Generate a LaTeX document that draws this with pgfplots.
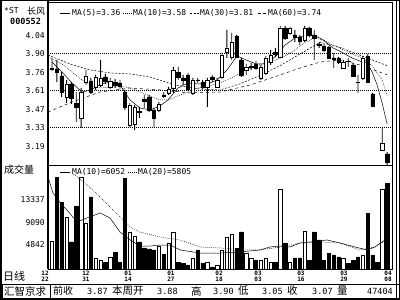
\documentclass[border=0pt]{standalone}
\usepackage{pgfplots}
\pgfplotsset{compat=1.18}
\usepackage{pgfplotstable}
\usepackage{fontspec}
\setmainfont{DejaVu Sans Mono}
\newfontfamily\cjk{Noto Sans CJK SC}
\newcommand{\fs}[1]{\fontsize{#1}{#1}\selectfont}

% up candles (close >= open): index open close high low volume
\pgfplotstableread{
i o c h l v
0 3.785 3.790 3.870 3.770 5590
3 3.569 3.669 3.700 3.523 10120
6 3.407 3.607 3.638 3.330 17670
7 3.684 3.731 3.777 3.661 8990
9 3.646 3.723 3.738 3.623 2380
10 3.661 3.715 3.854 3.646 2000
12 3.646 3.692 3.715 3.630 2570
16 3.353 3.507 3.523 3.338 7290
17 3.361 3.492 3.507 3.315 6530
22 3.469 3.515 3.530 3.453 4640
24 3.600 3.630 3.646 3.584 5210
25 3.638 3.777 3.800 3.600 7290
29 3.600 3.700 3.715 3.584 2380
32 3.646 3.700 3.715 3.492 1620
34 3.646 3.700 3.715 3.638 1060
35 3.723 3.892 3.908 3.708 3900
36 3.915 3.946 4.085 3.869 6340
37 3.877 3.992 4.062 3.854 6900
40 3.777 3.800 3.823 3.738 3320
41 3.800 3.808 3.831 3.777 2380
43 3.715 3.800 3.815 3.700 2000
44 3.754 3.869 3.885 3.738 2380
45 3.838 3.892 3.931 3.815 1620
47 3.877 4.100 4.116 3.869 15400
49 4.062 4.100 4.108 4.046 1620
52 4.008 4.100 4.116 3.992 7480
60 3.792 3.838 3.854 3.785 2380
64 3.715 3.869 3.885 3.700 2950
68 3.161 3.215 3.330 3.161 15400
}\upc

% down candles (close < open)
\pgfplotstableread{
i o c h l v
1 3.785 3.761 3.854 3.684 17670
2 3.731 3.607 3.761 3.569 12950
4 3.669 3.561 3.684 3.515 5400
5 3.523 3.492 3.607 3.376 12200
8 3.692 3.607 3.715 3.592 13900
11 3.723 3.692 3.746 3.669 1620
13 3.684 3.661 3.708 3.638 3510
14 3.677 3.654 3.700 3.630 1620
15 3.607 3.492 3.623 3.469 17480
18 3.456 3.450 3.492 3.407 5400
19 3.554 3.538 3.584 3.484 4270
20 3.569 3.469 3.584 3.453 4080
21 3.469 3.407 3.484 3.338 3890
23 3.584 3.577 3.607 3.561 3130
26 3.761 3.723 3.800 3.700 1620
27 3.715 3.700 3.738 3.661 1430
28 3.738 3.630 3.754 3.615 1060
30 3.700 3.695 3.715 3.677 3890
31 3.684 3.646 3.700 3.630 1430
33 3.723 3.708 3.738 3.684 680
38 4.039 3.877 4.046 3.869 4200
39 3.854 3.738 3.869 3.723 7290
42 3.823 3.792 3.846 3.777 2000
46 3.915 3.900 3.946 3.877 1620
48 4.100 4.023 4.116 4.008 5210
50 4.046 4.031 4.085 3.992 2380
51 4.031 4.000 4.046 3.969 2380
53 4.100 4.046 4.108 4.030 2000
54 4.046 4.023 4.085 3.854 7290
55 3.977 3.970 3.992 3.946 5780
56 3.962 3.931 3.977 3.915 2000
57 3.954 3.869 3.962 3.862 3320
58 3.869 3.862 3.908 3.792 2950
59 3.869 3.838 3.877 3.823 2570
61 3.846 3.842 3.869 3.800 1430
62 3.815 3.731 3.831 3.723 2000
63 3.684 3.680 3.738 3.600 2570
65 3.885 3.684 3.900 3.677 10870
66 3.592 3.500 3.600 3.492 2950
67 3.330 3.330 3.330 3.330 1620
69 3.130 3.068 3.145 3.045 16500
}\downc

\pgfplotsset{
  panel/.style={scale only axis, anchor=south west, width=344pt, xmin=-0.82, xmax=70.0},
  price/.style={panel, at={(48pt,135pt)}, height=163pt, ymin=3.045, ymax=4.30},
  vol/.style={panel, at={(48pt,31pt)}, height=104pt, ymin=302, ymax=19937},
  tl/.style={font=\fs{8}, inner sep=0pt, xshift=-3pt},
}

\begin{document}
\begin{tikzpicture}[x=1pt,y=1pt]
\path[use as bounding box] (0,0) rectangle (400,300);

% ---------- price panel ----------
\begin{axis}[price,
  axis line style={black, line width=0.6pt},
  xtick=\empty,
  ytick={3.19,3.3325,3.475,3.6175,3.76,3.9025,4.045},
  yticklabels={3.19,3.33,3.47,3.61,3.76,3.90,4.04},
  major tick length=0pt,
  yticklabel style={tl},
  extra y ticks={3.3325,3.6175,3.9025},
  extra y tick labels={},
  extra y tick style={grid=major},
  major grid style={black, line width=0.4pt, dash pattern=on 0.6pt off 1.4pt},
]
% MA5
\addplot[black, line width=0.5pt, mark=none] coordinates {
(0,3.838)(2.06,3.761)(4.12,3.677)(6.18,3.607)(8.03,3.623)(10.09,3.669)(12.15,3.684)(14.0,3.661)
(16.07,3.546)(18.13,3.484)(20.19,3.469)(22.25,3.50)(23.89,3.546)(25.95,3.638)(28.01,3.677)
(30.07,3.669)(32.13,3.669)(33.99,3.70)(36.05,3.777)(38.11,3.885)(39.96,3.854)(42.02,3.823)
(44.08,3.823)(46.14,3.885)(47.99,3.969)(50.05,4.023)(51.9,4.039)(53.97,4.046)(55.82,4.008)
(57.88,3.946)(59.94,3.908)(61.79,3.869)(63.85,3.838)(64.88,3.831)(65.91,3.761)(66.94,3.661)
(67.97,3.523)(69.0,3.36)};
% MA10
\addplot[black, line width=0.5pt, mark=none, dash pattern=on 0.8pt off 1.2pt] coordinates {
(-0.82,3.877)(2.06,3.823)(4.12,3.761)(6.18,3.70)(8.03,3.654)(10.09,3.638)(12.15,3.646)(14.0,3.654)
(16.07,3.638)(18.13,3.607)(20.19,3.577)(22.25,3.546)(23.89,3.546)(25.95,3.577)(28.01,3.607)
(30.07,3.638)(32.13,3.654)(33.99,3.669)(36.05,3.70)(38.11,3.738)(39.96,3.777)(42.02,3.808)
(44.08,3.831)(46.14,3.854)(47.99,3.885)(50.05,3.931)(51.9,3.985)(53.97,4.023)(55.82,4.008)
(57.88,3.969)(59.94,3.931)(61.79,3.90)(63.85,3.869)(65.91,3.808)(67.97,3.70)(69.0,3.58)};
% MA30
\addplot[black, line width=0.5pt, mark=none, dash pattern=on 2pt off 1.5pt] coordinates {
(-0.82,3.892)(3.71,3.823)(7.83,3.777)(11.95,3.754)(16.07,3.746)(20.19,3.723)(25.33,3.661)
(30.48,3.630)(34.6,3.623)(38.72,3.670)(42.84,3.735)(46.96,3.810)(51.08,3.900)(55.2,3.990)
(59.32,3.950)(63.44,3.890)(69.0,3.81)};
% MA60
\addplot[black, line width=0.5pt, mark=none, dash pattern=on 3pt off 3pt] coordinates {
(-0.82,3.453)(4.12,3.530)(9.89,3.607)(16.07,3.638)(22.25,3.623)(28.42,3.60)(34.6,3.607)
(40.78,3.661)(46.96,3.738)(51.08,3.792)(55.2,3.838)(59.32,3.854)(63.44,3.815)(69.0,3.74)};
\end{axis}

% up candle bodies and wicks
\begin{axis}[price, hide axis, ybar stacked, bar shift=0pt]
\addplot[draw=none, fill=none, bar width=3.4pt] table[x=i, y=l] {\upc};
\addplot[fill=black, draw=none, bar width=0.9pt] table[x=i, y expr=\thisrow{o}-\thisrow{l}] {\upc};
\addplot[fill=white, draw=black, line width=0.6pt, bar width=3.4pt] table[x=i, y expr=\thisrow{c}-\thisrow{o}] {\upc};
\addplot[fill=black, draw=none, bar width=0.9pt] table[x=i, y expr=\thisrow{h}-\thisrow{c}] {\upc};
\end{axis}

% down candle bodies and wicks
\begin{axis}[price, hide axis, ybar stacked, bar shift=0pt]
\addplot[draw=none, fill=none, bar width=3.4pt] table[x=i, y=l] {\downc};
\addplot[fill=black, draw=none, bar width=0.9pt] table[x=i, y expr=\thisrow{c}-\thisrow{l}] {\downc};
\addplot[fill=black, draw=black, line width=0.6pt, bar width=3.4pt] table[x=i, y expr=\thisrow{o}-\thisrow{c}] {\downc};
\addplot[fill=black, draw=none, bar width=0.9pt] table[x=i, y expr=\thisrow{h}-\thisrow{o}] {\downc};
\end{axis}

% ---------- volume panel ----------
\begin{axis}[vol,
  axis line style={black, line width=0.6pt},
  xtick=\empty,
  ytick={4842,9090,13337}, yticklabels={4842,9090,13337},
  scaled y ticks=false,
  major tick length=0pt,
  yticklabel style={tl},
]
\addplot[ybar, bar width=3.4pt, bar shift=0pt, fill=white, draw=black, line width=0.6pt] table[x=i, y=v] {\upc};
\addplot[ybar, bar width=3.4pt, bar shift=0pt, fill=black, draw=black, line width=0.6pt] table[x=i, y=v] {\downc};
% volume MA10
\addplot[black, line width=0.5pt, mark=none] coordinates {
(-0.82,17670)(0.21,14650)(2.06,12390)(3.09,11440)(5.15,9180)(7.21,9930)(9.89,10880)(11.95,9930)
(14.0,7290)(16.1,5780)(18.1,4640)(20.2,4640)(22.2,4830)(24.3,4830)(26.4,3890)(30.5,3320)
(34.6,3320)(38.7,3510)(42.8,3890)(44.9,4460)(47.0,4640)(49.0,4460)(51.1,5210)(53.1,5400)
(56.6,5780)(59.3,5210)(62.4,4460)(64.9,3890)(66.5,4460)(67.6,5210)(69.0,6052)};
% volume MA20
\addplot[black, line width=0.5pt, mark=none, dash pattern=on 0.8pt off 1.2pt] coordinates {
(4.12,18430)(6.8,16540)(9.89,13900)(13.0,11060)(16.1,8230)(18.1,7290)(22.2,6340)(26.4,5780)
(30.5,4460)(34.6,4270)(38.7,3890)(42.8,3890)(47.0,4460)(51.1,5210)(55.2,5400)(59.3,5210)
(63.4,3890)(66.5,4460)(69.0,5805)};
\end{axis}

% ---------- frames ----------
\draw[line width=1.5pt] (0.75,0.75) rectangle (399.25,299.25);
\draw[line width=1.2pt] (48,299) -- (48,31);
\draw[line width=0.8pt] (396,0) -- (396,300);
\draw[line width=0.6pt] (0,16) -- (400,16);
\draw[line width=0.8pt] (2,2) rectangle (50,15.5);

% ---------- texts ----------
\node[anchor=west, inner sep=0pt, font=\fs{8}] at (4,289) {*ST};
\node[anchor=west, inner sep=0pt, font=\cjk\fs{9}] at (27,289) {长风};
\node[anchor=west, inner sep=0pt, font=\bfseries\fs{8.5}] at (10,279) {000552};
\node[anchor=west, inner sep=0pt, font=\cjk\fs{10}] at (4,130) {成交量};
\node[anchor=west, inner sep=0pt, font=\cjk\fs{11}] at (3,24) {日线};

% price legend
\draw[black, line width=0.5pt] (60,287) -- (70,287);
\node[anchor=west, inner sep=0pt, font=\fs{8}] at (72,287) {MA(5)=3.36};
\draw[black, line width=0.6pt, dash pattern=on 0.8pt off 1.2pt] (123,287) -- (132,287);
\node[anchor=west, inner sep=0pt, font=\fs{8}] at (133,287) {MA(10)=3.58};
\draw[black, line width=0.5pt, dash pattern=on 2pt off 1.5pt] (190,287) -- (199,287);
\node[anchor=west, inner sep=0pt, font=\fs{8}] at (200,287) {MA(30)=3.81};
\draw[black, line width=0.5pt, dash pattern=on 3pt off 2pt] (258,287) -- (267,287);
\node[anchor=west, inner sep=0pt, font=\fs{8}] at (268,287) {MA(60)=3.74};

% volume legend
\draw[black, line width=0.5pt] (60,128) -- (70,128);
\node[anchor=west, inner sep=0pt, font=\fs{8}] at (72,128) {MA(10)=6052};
\draw[black, line width=0.6pt, dash pattern=on 0.8pt off 1.2pt] (128,128) -- (137,128);
\node[anchor=west, inner sep=0pt, font=\fs{8}] at (138,128) {MA(20)=5805};

% date labels
\foreach \xx/\ma/\mb in {45/12/22, 86/12/31, 128/01/14, 171/01/27, 219/02/18, 258/03/03, 301/03/16, 344/03/29, 388/04/08}{
  \node[inner sep=0pt, font=\bfseries\fs{6}] at (\xx,26.5) {\ma};
  \node[inner sep=0pt, font=\bfseries\fs{6}] at (\xx,21) {\mb};
}

% info bar
\node[anchor=west, inner sep=0pt, font=\cjk\fs{10.5}] at (4,9) {汇智京求};
\node[anchor=west, inner sep=0pt, font=\cjk\fs{10}] at (53,9) {前收};
\node[anchor=west, inner sep=0pt, font=\fs{8.5}] at (87,9) {3.87};
\node[anchor=west, inner sep=0pt, font=\cjk\fs{10.5}] at (112,9) {本周开};
\node[anchor=west, inner sep=0pt, font=\fs{8.5}] at (157,9) {3.88};
\node[anchor=west, inner sep=0pt, font=\cjk\fs{10.5}] at (191,9) {高};
\node[anchor=west, inner sep=0pt, font=\fs{8.5}] at (213,9) {3.90};
\node[anchor=west, inner sep=0pt, font=\cjk\fs{10.5}] at (238,9) {低};
\node[anchor=west, inner sep=0pt, font=\fs{8.5}] at (262,9) {3.05};
\node[anchor=west, inner sep=0pt, font=\cjk\fs{10.5}] at (287,9) {收};
\node[anchor=west, inner sep=0pt, font=\fs{8.5}] at (312,9) {3.07};
\node[anchor=west, inner sep=0pt, font=\cjk\fs{10.5}] at (337,9) {量};
\node[anchor=east, inner sep=0pt, font=\fs{8.5}] at (393,9) {47404};
\end{tikzpicture}
\end{document}
